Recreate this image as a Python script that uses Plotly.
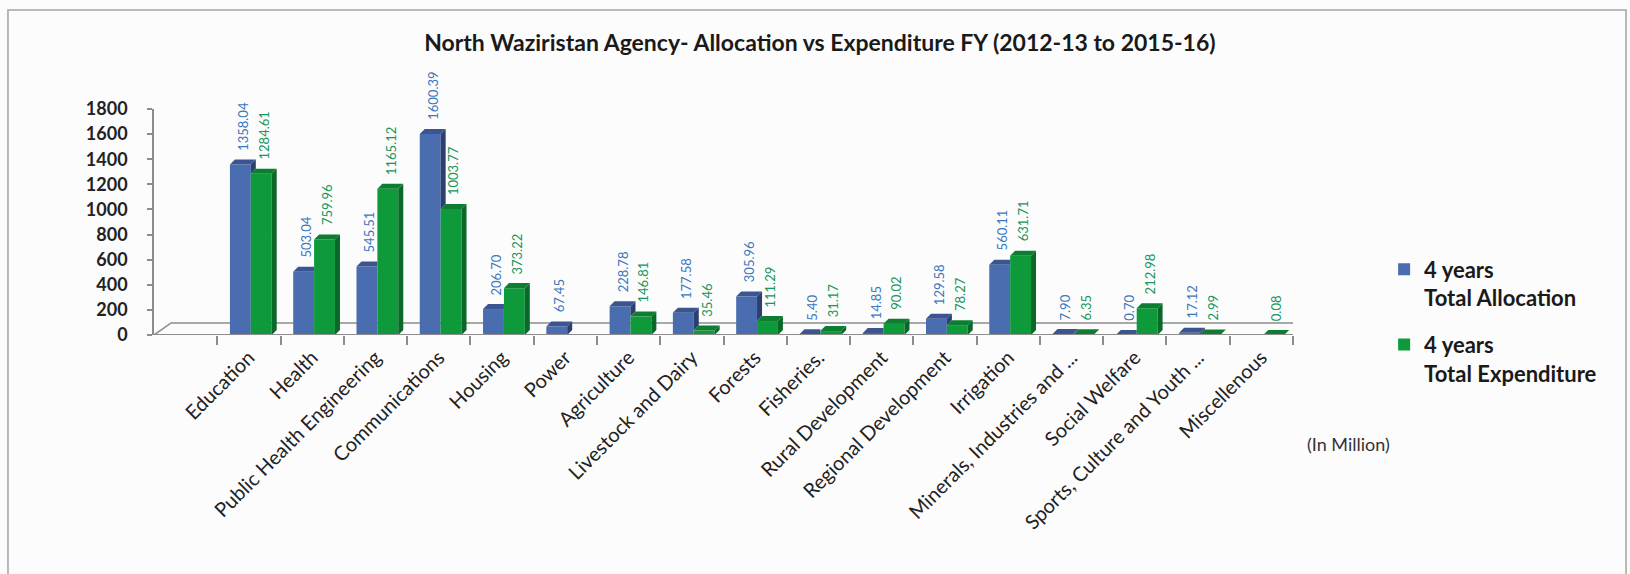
import plotly.graph_objects as go

# North Waziristan Agency: four-year totals by sector (Rs. million)
categories = [
    "Education", "Health", "Public Health Engineering", "Communications",
    "Housing", "Power", "Agriculture", "Livestock and Dairy", "Forests",
    "Fisheries.", "Rural Development", "Regional Development", "Irrigation",
    "Minerals, Industries and ...", "Social Welfare",
    "Sports, Culture and Youth ...", "Miscellenous",
]
allocation = [1358.04, 503.04, 545.51, 1600.39, 206.70, 67.45, 228.78, 177.58,
              305.96, 5.40, 14.85, 129.58, 560.11, 7.90, 0.70, 17.12, None]
expenditure = [1284.61, 759.96, 1165.12, 1003.77, 373.22, None, 146.81, 35.46,
               111.29, 31.17, 90.02, 78.27, 631.71, 6.35, 212.98, 2.99, 0.08]

y_ticks = [0, 200, 400, 600, 800, 1000, 1200, 1400, 1600, 1800]

FONT = "Lato"
BLUE, BLUE_SIDE, BLUE_TOP, BLUE_TXT = "#4A6DAF", "#2B406F", "#3B5592", "#3A78C0"
GREEN, GREEN_SIDE, GREEN_TOP, GREEN_TXT = "#0E9A3B", "#0A6829", "#0C7D31", "#17965C"
AXIS_GREY = "#8C8C8C"

# bar geometry in category units; depth offsets give the extruded look
BAR_W = 0.33
OFF_A, OFF_E = -0.30, 0.03
DX, DY = 0.079, 40.0          # depth shift (x in categories, y in value units)
FLOOR_DX, FLOOR_DY = 0.27, 96.0

n = len(categories)
xs = list(range(n))

fig = go.Figure()

fig.add_trace(go.Bar(
    x=xs, y=allocation, name="4 years<br>Total Allocation", legendgroup="a",
    offset=OFF_A, width=BAR_W, marker=dict(color=BLUE, line=dict(width=0)),
    hoverinfo="skip",
))
fig.add_trace(go.Bar(
    x=xs, y=expenditure, name="4 years<br>Total Expenditure", legendgroup="e",
    offset=OFF_E, width=BAR_W, marker=dict(color=GREEN, line=dict(width=0)),
    hoverinfo="skip",
))


def poly_trace(px, py, color, group):
    return go.Scatter(x=px, y=py, mode="lines", fill="toself", fillcolor=color,
                      line=dict(width=0, color=color), showlegend=False,
                      legendgroup=group, hoverinfo="skip")


# side and top faces of the allocation bars (hidden where expenditure bar is in front)
sx, sy, tx, ty = [], [], [], []
for i, (a, e) in enumerate(zip(allocation, expenditure)):
    if a is None:
        continue
    x0, x1 = i + OFF_A, i + OFF_A + BAR_W
    lo = e if e is not None else 0.0
    if a > lo:
        sx += [x1, x1 + DX, x1 + DX, x1, x1, None]
        sy += [lo, lo + DY, a + DY, a, lo, None]
    if e is not None and e > a:
        tx += [x0, x1, x1, x0 + DX, x0, None]
        ty += [a, a, a + DY, a + DY, a, None]
    else:
        tx += [x0, x1, x1 + DX, x0 + DX, x0, None]
        ty += [a, a, a + DY, a + DY, a, None]
fig.add_trace(poly_trace(sx, sy, BLUE_SIDE, "a"))
fig.add_trace(poly_trace(tx, ty, BLUE_TOP, "a"))

# side and top faces of the expenditure bars
sx, sy, tx, ty = [], [], [], []
for i, e in enumerate(expenditure):
    if e is None:
        continue
    x0, x1 = i + OFF_E, i + OFF_E + BAR_W
    sx += [x1, x1 + DX, x1 + DX, x1, x1, None]
    sy += [0, DY, e + DY, e, 0, None]
    tx += [x0, x1, x1 + DX, x0 + DX, x0, None]
    ty += [e, e, e + DY, e + DY, e, None]
fig.add_trace(poly_trace(sx, sy, GREEN_SIDE, "e"))
fig.add_trace(poly_trace(tx, ty, GREEN_TOP, "e"))

# vertical value labels above each bar
annotations = []
for series, off, col in ((allocation, OFF_A, BLUE_TXT), (expenditure, OFF_E, GREEN_TXT)):
    for i, v in enumerate(series):
        if v is None:
            continue
        annotations.append(dict(
            x=i + off + BAR_W / 2 + DX / 2, y=v, xref="x", yref="y",
            text=f"{v:.2f}", showarrow=False, textangle=-90,
            xanchor="center", yanchor="bottom", yshift=12,
            font=dict(family=FONT, size=13, color=col),
        ))

annotations.append(dict(
    x=1.049, y=-0.482, xref="paper", yref="paper", text="(In Million)",
    xanchor="center", yanchor="middle",
    showarrow=False, font=dict(family=FONT, size=18, color="#333333"),
))

# floor of the chart and outer frame
x_lo, x_hi = -1.5, n - 0.5
shapes = [
    dict(type="path", xref="x", yref="y", layer="below",
         path=(f"M{x_lo},0 L{x_lo + FLOOR_DX},{FLOOR_DY} "
               f"L{x_hi + FLOOR_DX},{FLOOR_DY} L{x_hi},0"),
         line=dict(color=AXIS_GREY, width=1.6)),
    dict(type="line", xref="x", yref="y", layer="above",
         x0=x_lo, x1=x_hi, y0=0, y1=0, line=dict(color=AXIS_GREY, width=2)),
    dict(type="line", xref="x", yref="y", layer="above",
         x0=x_hi, x1=x_hi + FLOOR_DX, y0=0, y1=FLOOR_DY,
         line=dict(color=AXIS_GREY, width=1.6)),
    dict(type="rect", xref="paper", yref="paper", layer="below",
         x0=-0.1282, x1=1.2924, y0=-1.09, y1=1.438,
         line=dict(color="#A3A3A3", width=1.5)),
]

boundaries = [i - 0.5 for i in range(n + 1)]

fig.update_layout(
    width=1630, height=574,
    margin=dict(l=154, r=337, t=109, b=239),
    paper_bgcolor="#FCFCFC", plot_bgcolor="#FCFCFC",
    font=dict(family=FONT, color="#222222"),
    title=dict(
        text="North Waziristan Agency- Allocation vs Expenditure FY (2012-13 to 2015-16)",
        xref="container", yref="container", x=0.503, y=0.925,
        xanchor="center", yanchor="middle",
        font=dict(family=FONT, size=23, color="#1A1A1A", weight="bold"),
    ),
    showlegend=True,
    legend=dict(
        x=1.08, y=0.383, xanchor="left", yanchor="top",
        font=dict(family=FONT, size=22, color="#1A1A1A", weight="bold"),
        bgcolor="rgba(0,0,0,0)", tracegroupgap=15, valign="top",
        traceorder="grouped",
    ),
    xaxis=dict(
        range=[x_lo, x_hi], tickmode="array", tickvals=xs, ticktext=categories,
        tickangle=-45, ticks="", showline=False, showgrid=False, zeroline=False,
        tickfont=dict(family=FONT, size=20, color="#222222"),
        ticklabelstandoff=6,
        minor=dict(tickmode="array", tickvals=boundaries, ticks="outside",
                   ticklen=9, tickcolor=AXIS_GREY, tickwidth=1.5, showgrid=False),
    ),
    yaxis=dict(
        range=[0, 1800], tickmode="array", tickvals=y_ticks,
        ticks="outside", ticklen=5, tickcolor=AXIS_GREY, tickwidth=1.5,
        showline=True, linecolor=AXIS_GREY, linewidth=1.6,
        showgrid=False, zeroline=False, ticklabelstandoff=16,
        tickfont=dict(family=FONT, size=18, color="#222222", weight="bold"),
    ),
    annotations=annotations,
    shapes=shapes,
)

fig.write_html("out.html")
